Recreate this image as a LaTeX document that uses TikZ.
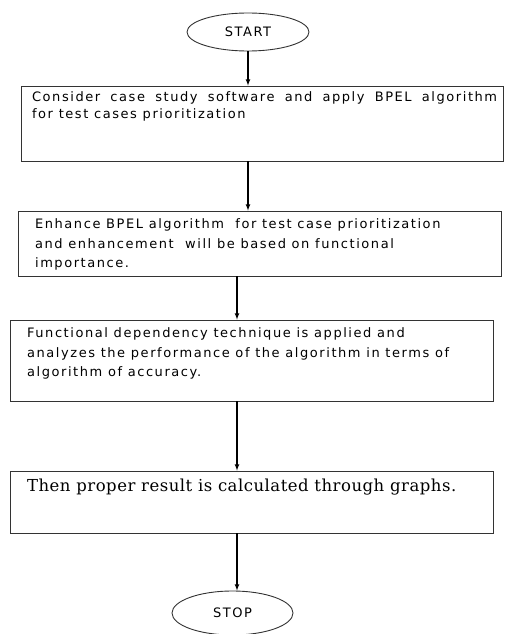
\documentclass[tikz,border=0pt]{standalone}
\usepackage{fontspec}
\usetikzlibrary{shapes.geometric}
\newfontfamily\flowfont[LetterSpace=12]{DejaVu Sans}
\newfontfamily\resultfont[LetterSpace=3]{DejaVu Serif}
\begin{document}
\begin{tikzpicture}[x=1pt,y=-1pt,>=latex,line width=1.1pt,
  every node/.style={font=\fontsize{13}{19.5}\selectfont\flowfont},
  stepbox/.style={draw=black!80,line width=0.9pt,inner sep=0pt},
  steptext/.style={anchor=north west,align=left,inner sep=0pt},
  endpoint/.style={draw=black!80,line width=0.9pt,ellipse,inner sep=0pt}]
  \useasboundingbox (0,0) rectangle (504,634);

  \node[endpoint,minimum width=122pt,minimum height=38pt] at (248,32) (start) {START};

  \node[stepbox,minimum width=482pt,minimum height=75pt,
    label={[steptext,xshift=11pt,yshift=-6pt,font=\fontsize{13}{17}\selectfont\flowfont]north west:{\makebox[465pt][s]{Consider case study software and apply BPEL algorithm}\\for test cases prioritization}}]
    at (262,123.5) (b1) {};
  \node[stepbox,minimum width=483pt,minimum height=65pt,
    label={[steptext,xshift=17pt,yshift=-8pt]north west:{Enhance BPEL algorithm\ \ for test case prioritization\\and enhancement\ \ will be based on functional\\importance.}}]
    at (259.5,243.5) (b2) {};
  \node[stepbox,minimum width=483pt,minimum height=81pt,
    label={[steptext,xshift=17pt,yshift=-8pt]north west:{Functional dependency technique is applied and\\analyzes the performance of the algorithm in terms of\\algorithm of accuracy.}}]
    at (251.5,360.5) (b3) {};
  \node[stepbox,minimum width=483pt,minimum height=62pt,
    label={[steptext,xshift=17pt,yshift=-8pt,font=\fontsize{16.5}{19}\selectfont\resultfont]north west:{Then proper result is calculated through graphs.}}]
    at (251.5,502) (b4) {};

  \node[endpoint,minimum width=121pt,minimum height=44pt] at (232.5,613) (stop) {STOP};

  \coordinate (lane) at (237,0);

  \draw (start) edge[->] (start |- b1.north);
  \draw (start |- b1.south) edge[->] (start |- b2.north);
  \draw (lane |- b2.south) edge[->] (lane |- b3.north);
  \draw (lane |- b3.south) edge[->] (lane |- b4.north);
  \draw (lane |- b4.south) edge[->] (lane |- stop.north);
\end{tikzpicture}
\end{document}
